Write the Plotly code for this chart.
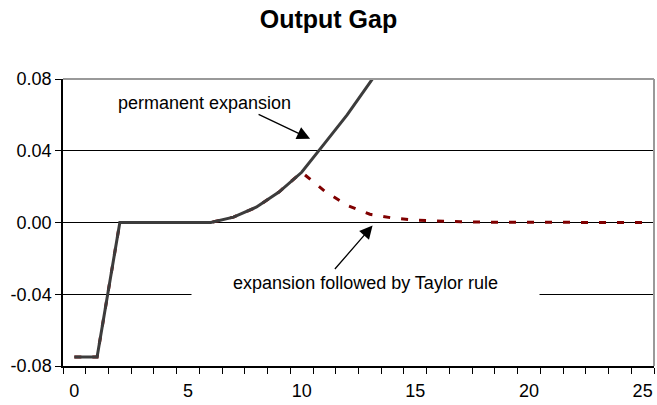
import plotly.graph_objects as go

# periods after the shock
periods = list(range(26))

# output gap, permanent expansion (leaves the chart after period 13)
permanent = [-0.075, -0.075, 0.0, 0.0, 0.0, 0.0, 0.0, 0.003, 0.0085, 0.017,
             0.028, 0.044, 0.060, 0.078, 0.096]

# output gap, expansion followed by Taylor rule
taylor = [-0.075, -0.075, 0.0, 0.0, 0.0, 0.0, 0.0, 0.003, 0.0085, 0.017,
          0.028, 0.0176, 0.0096, 0.0046, 0.0025, 0.0013, 0.0007, 0.0004, 0.0002, 0.0001,
          0.0, 0.0, 0.0, 0.0, 0.0, 0.0]

y_ticks = [-0.08, -0.04, 0.0, 0.04, 0.08]
y_ticktext = ["-0.08", "-0.04", "0.00", "0.04", "0.08"]
x_ticks = [0, 5, 10, 15, 20, 25]

FONT = "Arial, Liberation Sans, sans-serif"

fig = go.Figure()

# red dashed series underneath
fig.add_trace(
    go.Scatter(
        x=periods,
        y=taylor,
        mode="lines",
        name="expansion followed by Taylor rule",
        line=dict(color="#800000", width=3, dash="7px,11px"),
    )
)

# grey series on top
fig.add_trace(
    go.Scatter(
        x=periods[: len(permanent)],
        y=permanent,
        mode="lines",
        name="permanent expansion",
        line=dict(color="#3c3c3c", width=3),
    )
)

fig.update_layout(
    width=657,
    height=405,
    margin=dict(l=63, r=3, t=79, b=39),
    paper_bgcolor="white",
    plot_bgcolor="white",
    showlegend=False,
    font=dict(family=FONT, size=18, color="black"),
    title=dict(
        text="<b>Output Gap</b>",
        font=dict(family=FONT, size=25, color="black"),
        x=0.5,
        xanchor="center",
        y=0.952,
        yanchor="middle",
    ),
)

fig.update_xaxes(
    range=[-0.5, 25.5],
    tickmode="array",
    tickvals=x_ticks,
    ticks="",
    ticklabelstandoff=8,
    showgrid=False,
    zeroline=False,
    showline=True,
    linecolor="black",
    linewidth=1.5,
    tickfont=dict(size=18),
    minor=dict(
        tickmode="array",
        tickvals=[i + 0.5 for i in range(-1, 26)],
        ticks="outside",
        ticklen=6,
        tickcolor="black",
        tickwidth=1,
        showgrid=False,
    ),
)

fig.update_yaxes(
    range=[-0.08, 0.08],
    tickmode="array",
    tickvals=y_ticks,
    ticktext=y_ticktext,
    ticks="outside",
    ticklen=6,
    tickcolor="black",
    showgrid=True,
    gridcolor="black",
    gridwidth=1,
    zeroline=False,
    showline=True,
    linecolor="black",
    linewidth=1.5,
    tickfont=dict(size=18),
)

# grey top and right border of the plot area
fig.add_shape(type="line", xref="paper", yref="paper", x0=0, x1=1, y0=1, y1=1,
              line=dict(color="#999999", width=2))
fig.add_shape(type="line", xref="paper", yref="paper", x0=1, x1=1, y0=0, y1=1,
              line=dict(color="#999999", width=2))

# labels
fig.add_annotation(
    x=5.73, y=0.0666, xref="x", yref="y",
    text="permanent expansion", showarrow=False,
    font=dict(family=FONT, size=18, color="black"),
)
fig.add_annotation(
    x=12.8, y=-0.0338, xref="x", yref="y",
    text="expansion followed by Taylor rule", showarrow=False,
    font=dict(family=FONT, size=18, color="black"),
    bgcolor="white", width=343, height=30, borderpad=2,
)

# arrows
fig.add_annotation(
    x=10.37, y=0.0467, xref="x", yref="y",
    ax=-53, ay=-25, text="", showarrow=True,
    arrowhead=2, arrowsize=2, arrowwidth=1.3, arrowcolor="black",
)
fig.add_annotation(
    x=13.12, y=-0.0017, xref="x", yref="y",
    ax=-39, ay=45, text="", showarrow=True,
    arrowhead=2, arrowsize=2, arrowwidth=1.3, arrowcolor="black",
)

# page body has a default margin, drop it so the chart sits at the corner
fig.write_html(
    "out.html",
    config={"displayModeBar": False},
    post_script="document.body.style.margin='0';",
)
